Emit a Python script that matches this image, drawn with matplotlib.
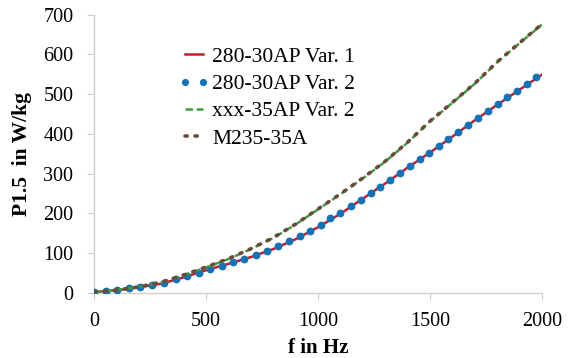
import matplotlib
matplotlib.use("Agg")
import matplotlib.pyplot as plt

# frequency grid (Hz) and loss readings (W/kg)
freq = [0, 100, 200, 300, 400, 500, 600, 700, 800, 900, 1000, 1100, 1200,
        1300, 1400, 1500, 1600, 1700, 1800, 1900, 2000]
var1 = [2, 6, 14, 23, 39, 57, 73, 90, 110, 135, 165, 199, 237,
        275, 315, 353, 393, 434, 473, 511, 549]
var2_freq = [0, 52, 104, 155, 207, 260, 312, 365, 417, 469, 519, 570, 622,
             671, 723, 772, 821, 871, 918, 966, 1012, 1054, 1098, 1146, 1190,
             1235, 1277, 1321, 1366, 1411, 1455, 1497, 1540, 1582, 1627, 1671,
             1716, 1760, 1805, 1845, 1890, 1932, 1976]
var2 = [3, 4, 7, 11, 15, 19, 25, 34, 42, 51, 60, 68, 78,
        85, 95, 106, 117, 130, 142, 156, 171, 188, 202, 219, 234,
        251, 267, 284, 301, 318, 336, 353, 370, 387, 405, 423,
        440, 458, 475, 492, 509, 526, 542]
xxx35 = [2, 7, 15, 26, 44, 64, 85, 110, 138, 172, 210, 248, 288,
         330, 378, 431, 478, 526, 580, 628, 675]
m235 = [2, 7, 15, 27, 45, 65, 86, 111, 139, 173, 211, 249, 289,
        331, 379, 432, 479, 527, 581, 629, 676]

labels = ["280-30AP Var. 1", "280-30AP Var. 2", "xxx-35AP Var. 2", "M235-35A"]

plt.rcParams["font.family"] = ["Liberation Serif", "DejaVu Serif"]

fig = plt.figure(figsize=(5.74, 3.58), dpi=100)
ax = fig.add_axes([0.164, 0.182, 0.780, 0.777])

ax.plot(freq, var1, color="#cc1a2c", lw=1.8, label=labels[0], zorder=2)
ax.plot(var2_freq, var2, linestyle="none", marker="o", ms=4.6,
        color="#0f73b8", label=labels[1], zorder=3)
ax.plot(freq, xxx35, color="#3f9a3f", lw=1.8, linestyle=(0, (3, 1.5)),
        label=labels[2], zorder=4)
ax.plot(freq, m235, color="#6b4a3a", lw=2.6, linestyle=(0, (0.6, 2.2)),
        dash_capstyle="round", label=labels[3], zorder=5)

ax.set_xlim(0, 2000)
ax.set_ylim(0, 700)
ax.set_xticks([0, 500, 1000, 1500, 2000])
ax.set_yticks(range(0, 701, 100))

for s in ["top", "right"]:
    ax.spines[s].set_visible(False)
for s in ["left", "bottom"]:
    ax.spines[s].set_color("#d0d0d0")
    ax.spines[s].set_linewidth(1.0)
ax.tick_params(axis="both", direction="out", length=5, color="#d0d0d0",
               labelsize=14.5)
ax.tick_params(axis="y", pad=10)
ax.tick_params(axis="x", pad=9)

ax.set_xlabel("f in Hz", fontsize=15, fontweight="bold", labelpad=5)
ax.set_ylabel("P1.5  in W/kg", fontsize=15.5, fontweight="bold", labelpad=8)

ax.legend(loc="upper left", bbox_to_anchor=(0.17, 0.915), frameon=False,
          fontsize=15.5, handlelength=1.4, handletextpad=0.15,
          labelspacing=0.33, borderaxespad=0, numpoints=2, markerscale=0.9)

fig.savefig("out.png", dpi=100)
